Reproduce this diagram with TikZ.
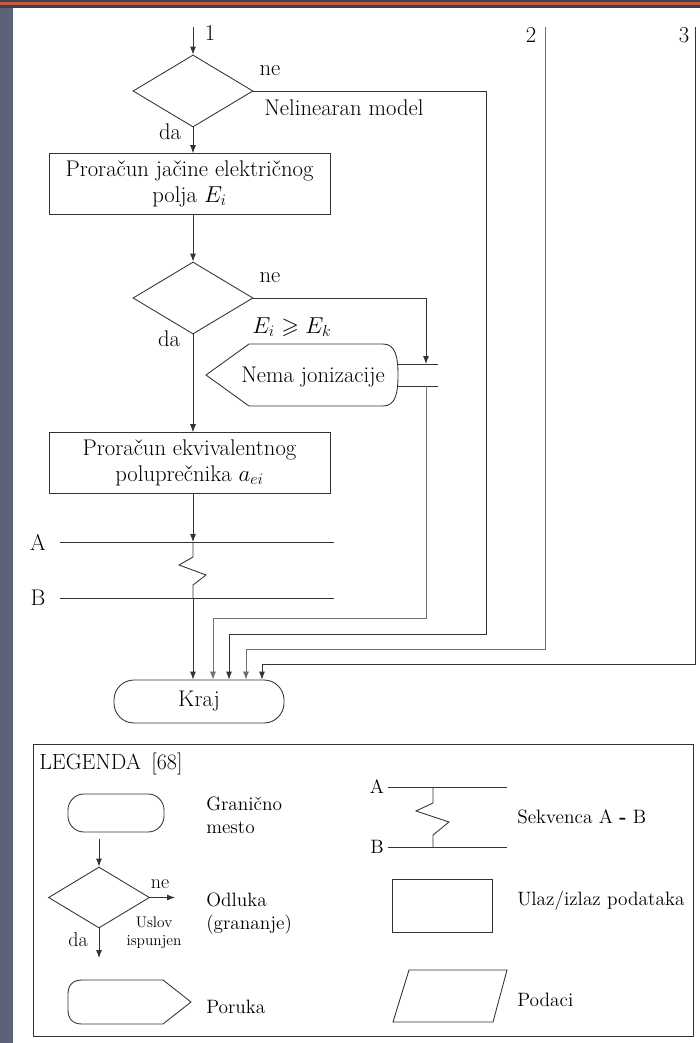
\documentclass[tikz,border=0pt]{standalone}
\usepackage{fontspec}
\usepackage{amssymb}
\usetikzlibrary{shapes.geometric,arrows.meta,calc}
\definecolor{lc}{HTML}{333333}
\definecolor{lcl}{HTML}{707070}
\definecolor{stripc}{HTML}{5B6379}
\definecolor{barred}{HTML}{C9583F}
\definecolor{bardark}{HTML}{3C4150}
\begin{document}
\begin{tikzpicture}[x=0.75pt,y=-0.75pt,
  ln/.style={draw=lc,line width=0.65pt},
  lnl/.style={draw=lcl,line width=0.6pt},
  arr/.style={ln,-{Latex[length=6pt,width=4.5pt]}},
  arrl/.style={lnl,-{Latex[length=6pt,width=4.5pt]}},
  dec/.style={diamond,draw=lc,line width=0.65pt,inner sep=0pt,minimum width=90pt,minimum height=54pt},
  procbox/.style={draw=lc,line width=0.65pt,minimum width=210.75pt,minimum height=45.5pt,align=center,inner sep=0pt,font=\fontsize{17}{19}\selectfont},
  termbox/.style={draw=lc,line width=0.65pt,rounded corners=15pt,minimum width=127.5pt,minimum height=32.25pt,inner sep=0pt,font=\fontsize{17}{17}\selectfont},
  lbl/.style={inner sep=0pt,font=\fontsize{17}{17}\selectfont},
  leglbl/.style={inner sep=0pt,anchor=west,align=left,font=\fontsize{14.5}{17}\selectfont},
  legtitle/.style={inner sep=0pt,anchor=west,font=\fontsize{16.5}{17}\selectfont},
  small/.style={inner sep=0pt,align=center,font=\fontsize{11.5}{13.5}\selectfont}
]
\useasboundingbox (0,0) rectangle (700,1043);
% frame decoration
\fill[white] (0,0) rectangle (700,1043);
\fill[stripc] (0,0) rectangle (13,1043);
\fill[bardark] (0,0) rectangle (700,8);
\fill[barred] (0,2) rectangle (700,4.5);

% ---- main flow nodes ----
\coordinate (s1) at (193,27);
\node[dec] (d1) at (193,91) {};
\node[procbox] (b1) at (189.5,184) {Proračun jačine električnog\\polja $E_i$};
\node[dec] (d2) at (193,298) {};
\node[procbox] (b2) at (189.5,463) {Proračun ekvivalentnog\\poluprečnika $a_{ei}$};
\node[termbox] (kraj) at (199,701.5) {Kraj};

% message shape
\draw[ln] (206,375) -- (249,344) -- (383,344)
  .. controls (396,344) and (398,358) .. (398,375)
  .. controls (398,392) and (396,406) .. (383,406) -- (249,406) -- cycle;
\node[lbl] (msg) at (313,377) {Nema jonizacije};
\coordinate (mtop) at (426,364);
\coordinate (mbot) at (426,386);
\draw[ln] (398,364) -- (438,364);
\draw[ln] (398,386) -- (438,386);

% labels
\node[lbl] (l1) at (210,33) {1};
\node[lbl] (l2) at (531,35) {2};
\node[lbl] (l3) at (684,35) {3};
\node[lbl] (ne1) at (270,71) {ne};
\node[lbl,anchor=west] (nel) at (264,108) {Nelinearan model};
\node[lbl] (da1) at (170,132) {da};
\node[lbl] (ne2) at (270,278) {ne};
\node[lbl,anchor=west] (cond) at (252,327) {$E_i \geqslant E_k$};
\node[lbl] (da2) at (169,339) {da};

% A-B sequence
\coordinate (pa) at (193,542);
\coordinate (pb) at (193,598);
\node[lbl] (la) at (38,542) {A};
\node[lbl] (lb) at (38,598) {B};
\draw[ln] (60,542) -- (334,542);
\draw[ln] (60,598) -- (334,598);

% ---- connectors ----
\draw[arr] (s1) -- (d1.north);
\draw[arr] (d1.south) -- (d1.south |- b1.north);
\draw[arr] (d1.south |- b1.south) -- (d2.north);
\draw[arr] (d2.south) -- (d2.south |- b2.north);
\draw[arr] (d2.south |- b2.south) -- (pa);
\draw[ln] (pa) -- (193,557) -- (179,565) -- (206,575) -- (193,585) -- (pb);
\draw[arr] (pb) -- (kraj.north -| pb);
\draw[arr] (d2.east) -| (mtop);
\draw[arrl] (mbot) -- (426,618) -| ($(kraj.north)+(14,0)$);
\draw[arr] (d1.east) -| (486,634) -| ($(kraj.north)+(30,0)$);
\coordinate (s2) at (545,27);
\coordinate (s3) at (695,27);
\draw[arrl] (s2) -- (545,649) -| ($(kraj.north)+(47,0)$);
\draw[arr] (s3) -- (695,664) -| ($(kraj.north)+(63,0)$);

% ---- legend ----
\draw[ln] (33,744) rectangle (693,1036);
\node[legtitle] (legt) at (39,764) {LEGENDA\ \,[68]};
\node[draw=lc,line width=0.65pt,rounded corners=12pt,minimum width=72pt,minimum height=28.5pt,inner sep=0pt] (lterm) at (116,813) {};
\node[leglbl] (lterml) at (206,815) {Granično\\mesto};
\coordinate (ls) at (99,839);
\node[diamond,draw=lc,line width=0.65pt,inner sep=0pt,minimum width=75.75pt,minimum height=45.75pt] (ld) at (99,897.5) {};
\coordinate (lne) at (175,897.5);
\coordinate (lda) at (99,958);
\draw[arr] (ls) -- (ld.north);
\draw[arr] (ld.east) -- (lne);
\draw[arr] (ld.south) -- (lda);
\node[lbl,font=\fontsize{15}{15}\selectfont] (lnel) at (160,884) {ne};
\node[lbl,font=\fontsize{15}{15}\selectfont] (ldal) at (78,940) {da};
\node[small] (lusl) at (154,933) {Uslov\\ispunjen};
\node[leglbl] (lodl) at (206,913.5) {Odluka\\(grananje)};
\draw[ln] (163,980) -- (191,1002) -- (163,1024) -- (82,1024)
  .. controls (73,1024) and (68,1019) .. (68,1010) -- (68,994)
  .. controls (68,985) and (73,980) .. (82,980) -- cycle;
\node[leglbl] (lpor) at (206,1007) {Poruka};

\node[lbl,font=\fontsize{14.5}{15}\selectfont] (lA) at (377,787) {A};
\node[lbl,font=\fontsize{14.5}{15}\selectfont] (lB) at (377,847) {B};
\draw[ln] (388,787) -- (507,787);
\draw[ln] (388,847) -- (507,847);
\draw[ln] (433,787) -- (433,803) -- (416,811) -- (449,822) -- (433,835) -- (433,847);
\node[leglbl] (lsek) at (517,817) {Sekvenca A \textbf{-} B};
\draw[ln] (392,879) rectangle (492,932);
\node[leglbl] (lula) at (517,901) {Ulaz/izlaz podataka};
\draw[ln] (393,1022) -- (409,970) -- (507,970) -- (493,1022) -- cycle;
\node[leglbl] (lpod) at (517,1000) {Podaci};
\end{tikzpicture}
\end{document}
